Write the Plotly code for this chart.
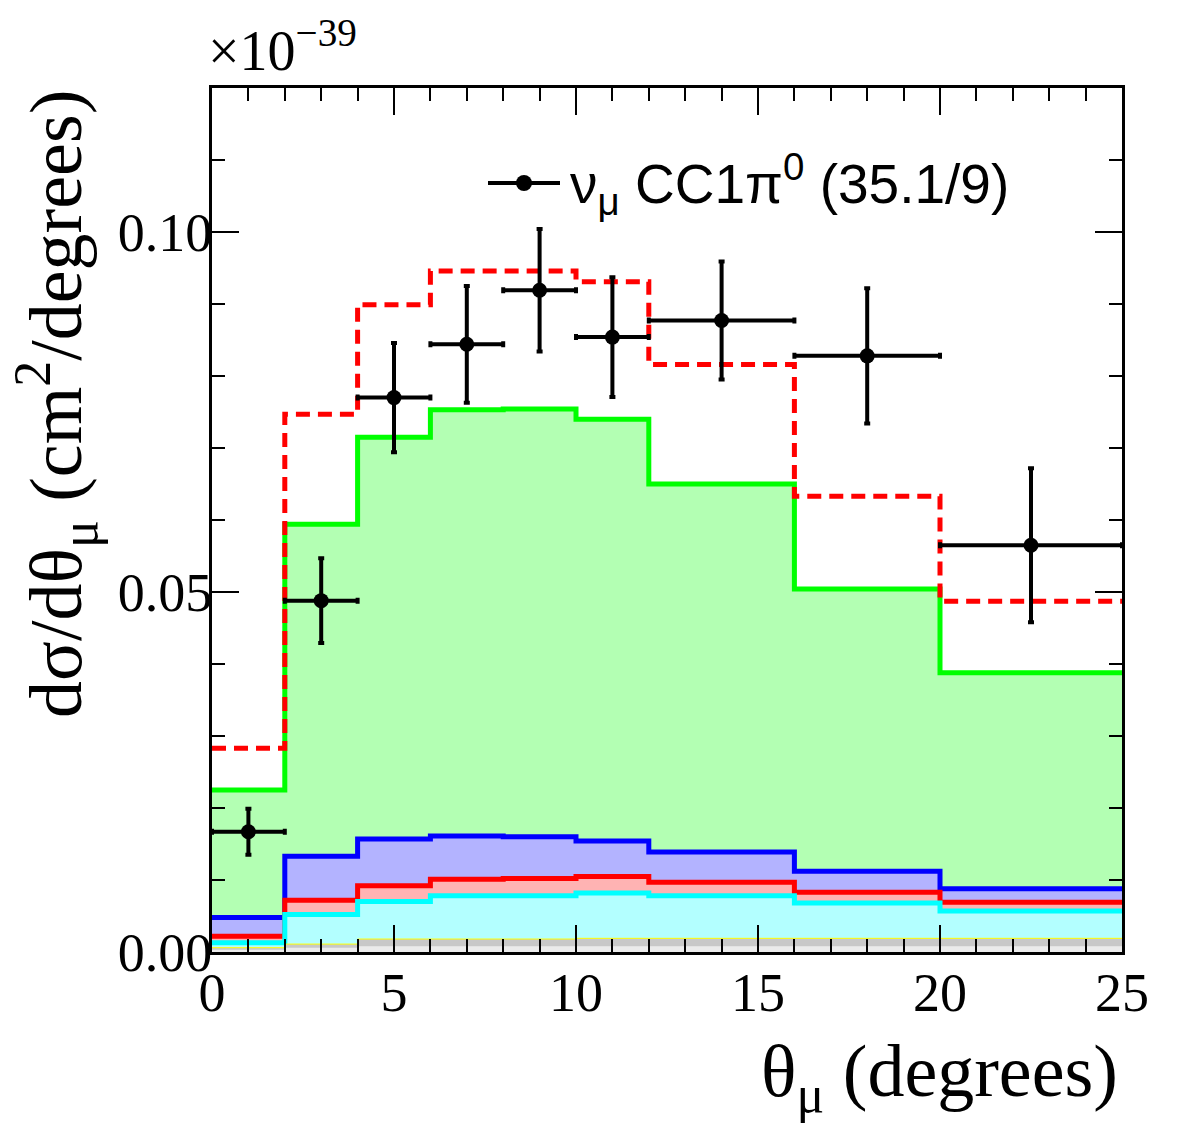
import plotly.graph_objects as go

# ---- data (values in units of 1e-39 cm^2/degree) ----
bin_edges = [0, 2, 4, 6, 8, 10, 12, 16, 20, 25]
bin_centers = [1, 3, 5, 7, 9, 11, 14, 18, 22.5]
bin_halfwidths = [1, 1, 1, 1, 1, 1, 2, 2, 2.5]

data_xsec = [0.0167, 0.0488, 0.0770, 0.0844, 0.0919, 0.0854, 0.0877, 0.0828, 0.0565]
data_err = [0.0032, 0.0059, 0.0076, 0.0081, 0.0085, 0.0083, 0.0082, 0.0094, 0.0107]

alt_model = [0.0283, 0.0747, 0.0899, 0.0946, 0.0946, 0.0931, 0.0816, 0.0633, 0.0487]

stack_green = [0.0225, 0.0594, 0.0715, 0.0753, 0.0754, 0.0740, 0.0650, 0.0504, 0.0388]
stack_blue = [0.0048, 0.0133, 0.0157, 0.0161, 0.0160, 0.0154, 0.0139, 0.0112, 0.0088]
stack_red = [0.0022, 0.0072, 0.0092, 0.0101, 0.0102, 0.0105, 0.0097, 0.0083, 0.0069]
stack_cyan = [0.0013, 0.0052, 0.0070, 0.0078, 0.0078, 0.0082, 0.0078, 0.0068, 0.0057]
stack_yellow = [0.0006, 0.0011, 0.0018, 0.0018, 0.0018, 0.0019, 0.0019, 0.0019, 0.0019]
stack_gray = [0.0003, 0.0006, 0.0008, 0.0008, 0.0008, 0.0008, 0.0008, 0.0008, 0.0008]

legend_label = "ν<sub>μ</sub> CC1π<sup>0</sup> (35.1/9)"


def step(vals):
    return list(vals) + [vals[-1]]


fig = go.Figure()

layers = [
    (stack_green, "#00ff00", "#b3ffb3", 5),
    (stack_blue, "#0000ff", "#b3b3ff", 5),
    (stack_red, "#ff0000", "#ffb3b3", 5),
    (stack_cyan, "#00ffff", "#b3ffff", 5),
    (stack_yellow, "#ffff00", "#c8c8c8", 1),
    (stack_gray, "rgba(0,0,0,0)", "#ebebeb", 0),
]
for vals, lc, fc, lw in layers:
    fig.add_trace(go.Scatter(
        x=bin_edges, y=step(vals), mode="lines", line_shape="hv",
        line=dict(color=lc, width=lw), fill="tozeroy", fillcolor=fc,
        hoverinfo="skip"))

fig.add_trace(go.Scatter(
    x=bin_edges, y=step(alt_model), mode="lines", line_shape="hv",
    line=dict(color="#ff0000", width=5, dash="14px,8px"), hoverinfo="skip"))

fig.add_trace(go.Scatter(
    x=bin_centers, y=data_xsec, mode="markers",
    marker=dict(color="black", size=15),
    error_y=dict(type="data", array=data_err, color="black", thickness=4, width=3),
    error_x=dict(type="data", array=bin_halfwidths, color="black", thickness=4, width=3),
    name=legend_label))

serif = "Liberation Serif"
axis_common = dict(
    ticks="inside", ticklen=27, tickwidth=2, tickcolor="black",
    showline=True, linewidth=3, linecolor="black", mirror="allticks",
    showgrid=False, zeroline=False,
    tickfont=dict(family=serif, size=54, color="black"),
)

fig.update_xaxes(range=[0, 25], tick0=0, dtick=5,
                 minor=dict(dtick=1, ticks="inside", ticklen=13, tickwidth=2, tickcolor="black"),
                 ticklabelstandoff=-9, **axis_common)
fig.update_yaxes(range=[0, 0.12], tick0=0, dtick=0.05, tickformat=".2f",
                 minor=dict(dtick=0.01, ticks="inside", ticklen=13, tickwidth=2, tickcolor="black"),
                 ticklabelstandoff=-14, **axis_common)

W, H = 1182, 1134
L, R, T, B = 212, 60, 88, 182
pw, ph = W - L - R, H - T - B


def px(xp):
    return (xp - L) / pw


def py(yp):
    return (H - B - yp) / ph


annotations = [
    dict(text="θ<sub>μ</sub> (degrees)", x=px(1120), y=py(1076), xref="paper", yref="paper",
         xanchor="right", yanchor="middle", showarrow=False,
         font=dict(family=serif, size=74, color="black")),
    dict(text="dσ/dθ<sub>μ</sub> (cm<sup>2</sup>/degrees)", textangle=-90,
         x=px(56), y=1.0, xref="paper", yref="paper",
         xanchor="center", yanchor="top", showarrow=False,
         font=dict(family=serif, size=74, color="black")),
    dict(text="×10<sup>−39</sup>", x=px(206), y=py(84), xref="paper", yref="paper",
         xanchor="left", yanchor="bottom", showarrow=False,
         font=dict(family=serif, size=56, color="black")),
    dict(text=legend_label, x=px(568), y=py(184), xref="paper", yref="paper",
         xanchor="left", yanchor="middle", showarrow=False,
         font=dict(family="Liberation Sans", size=55, color="black")),
]

shapes = [
    dict(type="line", xref="paper", yref="paper", x0=px(488), x1=px(560), y0=py(183), y1=py(183),
         line=dict(color="black", width=4)),
    dict(type="circle", xref="paper", yref="paper", x0=px(516), x1=px(532), y0=py(191), y1=py(175),
         fillcolor="black", line=dict(color="black", width=0)),
]

fig.update_layout(
    width=W, height=H, margin=dict(l=L, r=R, t=T, b=B),
    plot_bgcolor="white", paper_bgcolor="white", showlegend=False,
    annotations=annotations, shapes=shapes,
)

fig.write_html("out.html")
